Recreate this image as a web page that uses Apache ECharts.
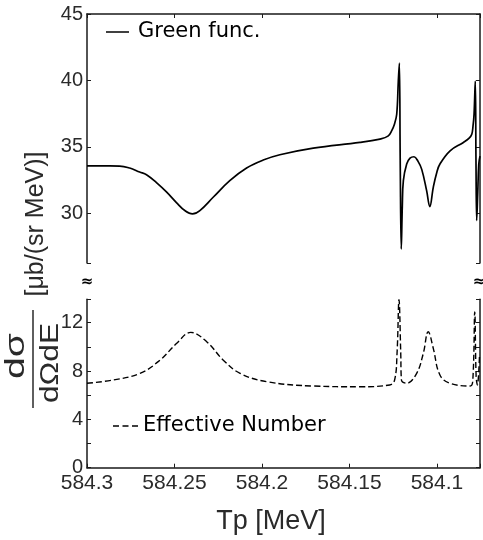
<!DOCTYPE html>
<html><head><meta charset="utf-8">
<script src="https://cdn.jsdelivr.net/npm/echarts@6/dist/echarts.min.js"></script>
<style>html,body{margin:0;padding:0;background:#fff}#c{width:483px;height:540px}</style>
</head><body><div id="c"></div>
<script>
// ---- data ----
const greenTp = [584.300, 584.290, 584.2813, 584.2756, 584.2699, 584.266, 584.2603, 584.2546, 584.2489, 584.2441, 584.2397, 584.2355, 584.2279, 584.2184, 584.2088, 584.1993, 584.1898, 584.1707, 584.1440, 584.1326, 584.128, 584.1259, 584.1243, 584.1230, 584.1221, 584.1215, 584.1210, 584.1204, 584.1198, 584.1192, 584.1173, 584.1154, 584.1131, 584.1108, 584.1087, 584.1059, 584.1041, 584.1021, 584.1001, 584.0983, 584.0925, 584.0849, 584.0816, 584.0801, 584.0794, 584.0788, 584.0781, 584.0777, 584.0773, 584.0767, 584.0761, 584.0754];
const greenVal = [33.57, 33.56, 33.55, 33.4, 33.1, 32.9, 32.3, 31.6, 30.8, 30.2, 29.95, 30.2, 31.2, 32.45, 33.4, 34.0, 34.4, 34.9, 35.33, 35.58, 35.8, 36.2, 36.7, 37.45, 39.9, 41.3, 34.0, 27.3, 30.5, 32.45, 33.7, 34.15, 34.25, 33.9, 33.3, 31.7, 30.5, 31.95, 33.07, 33.7, 34.7, 35.33, 35.65, 35.95, 36.55, 37.45, 39.95, 34.0, 29.45, 31.5, 33.7, 34.3];
const effTp = [584.300, 584.285, 584.2697, 584.2583, 584.2487, 584.2407, 584.2316, 584.2221, 584.2125, 584.1973, 584.1706, 584.1440, 584.127, 584.1242, 584.1228, 584.1217, 584.1207, 584.1203, 584.1173, 584.1116, 584.1078, 584.1050, 584.1021, 584.0983, 584.0925, 584.0810, 584.0795, 584.0784, 584.0776, 584.0769, 584.0757];
const effVal = [6.99, 7.26, 7.81, 8.9, 10.3, 11.2, 10.43, 8.9, 7.81, 7.12, 6.76, 6.7, 6.85, 7.26, 9.5, 13.9, 9.5, 7.26, 6.99, 7.81, 9.47, 11.26, 9.88, 7.67, 6.99, 6.76, 7.26, 12.9, 7.53, 6.85, 9.2];
const xTickLabels = [584.3, 584.25, 584.2, 584.15, 584.1];
const yTopTickLabels = [30, 35, 40, 45];
const yBottomTickLabels = [0, 4, 8, 12];
const seriesNames = ['Green func.', 'Effective Number'];
const xTitle = 'Tp [MeV]';
const yUnit = '[μb/(sr MeV)]';

const X_MIN = 584.0754, X_MAX = 584.3;
const TOP_MIN = 26.25, TOP_MAX = 45;
const BOT_MIN = 0, BOT_MAX = 13.94;

const AX = '#1a1a1a', LBL = '#2a2a2a';
const numFont = '"Liberation Sans", Arial, sans-serif';
const legFont = '"DejaVu Sans", sans-serif';
const near = (v, arr) => arr.some(a => Math.abs(a - v) < 1e-6);

const chart = echarts.init(document.getElementById('c'), null, {renderer: 'canvas'});

function xAx(grid, showLabels) {
  return {
    type: 'value', gridIndex: grid, min: X_MIN, max: X_MAX, inverse: true, splitNumber: 5,
    position: showLabels ? 'bottom' : 'top',
    axisLine: {show: true, onZero: false, lineStyle: {color: AX, width: 1.5}},
    axisTick: {show: true, inside: true, length: 4, lineStyle: {color: AX, width: 1}},
    axisLabel: {show: showLabels, margin: 5, fontSize: 21, fontFamily: numFont, color: LBL,
      formatter: v => near(v, xTickLabels) ? String(v) : ''},
    splitLine: {show: false}
  };
}
function yAx(grid, min, max, pos, labels, opts) {
  return Object.assign({
    type: 'value', gridIndex: grid, min: min, max: max, position: pos,
    axisLine: {show: true, onZero: false, lineStyle: {color: AX, width: 1.5}},
    axisTick: {show: true, inside: true, length: 4, lineStyle: {color: AX, width: 1}},
    axisLabel: {show: !!labels, margin: 4, fontSize: 20, fontFamily: numFont, color: LBL,
      formatter: v => (labels && near(v, labels)) ? String(v) : ''},
    splitLine: {show: false}
  }, opts || {});
}

const option = {
  animation: false,
  backgroundColor: '#fff',
  grid: [
    {left: 87, right: 3, top: 14, height: 249},
    {left: 87, right: 3, top: 299.3, height: 168.4}
  ],
  xAxis: [xAx(0, false), xAx(1, true)],
  yAxis: [
    yAx(0, TOP_MIN, TOP_MAX, 'left', yTopTickLabels, {splitNumber: 4}),
    yAx(0, TOP_MIN, TOP_MAX, 'right', null, {splitNumber: 4}),
    yAx(1, BOT_MIN, BOT_MAX, 'left', yBottomTickLabels, {interval: 4, minorTick: {show: true, splitNumber: 2, length: 4, lineStyle: {color: AX, width: 1}}}),
    yAx(1, BOT_MIN, BOT_MAX, 'right', null, {interval: 4, minorTick: {show: true, splitNumber: 2, length: 4, lineStyle: {color: AX, width: 1}}})
  ],
  series: [
    {name: seriesNames[0], type: 'line', xAxisIndex: 0, yAxisIndex: 0,
     data: greenTp.map((t, i) => [t, greenVal[i]]), showSymbol: false, symbol: 'none',
     smooth: 0.4, lineStyle: {color: '#000', width: 1.7}},
    {name: seriesNames[1], type: 'line', xAxisIndex: 1, yAxisIndex: 2,
     data: effTp.map((t, i) => [t, effVal[i]]), showSymbol: false, symbol: 'none',
     smooth: 0.4, lineStyle: {color: '#000', width: 1.4, type: [6, 3]}}
  ],
  graphic: [
    // legends
    {type: 'line', shape: {x1: 106, y1: 32, x2: 129, y2: 32}, style: {stroke: '#000', lineWidth: 1.5}},
    {type: 'text', x: 138, y: 32, style: {text: seriesNames[0], font: '21px ' + legFont, fill: '#000', align: 'left', verticalAlign: 'middle'}},
    {type: 'line', shape: {x1: 113, y1: 426, x2: 139, y2: 426}, style: {stroke: '#000', lineWidth: 1.5, lineDash: [6, 3.5]}},
    {type: 'text', x: 143, y: 426, style: {text: seriesNames[1], font: '21px ' + legFont, fill: '#000', align: 'left', verticalAlign: 'middle'}},
    // axis break marks
    {type: 'text', x: 87, y: 282, style: {text: '≈', font: 'bold 15px "DejaVu Sans"', fill: '#000', align: 'center', verticalAlign: 'middle'}},
    {type: 'text', x: 479, y: 282, style: {text: '≈', font: 'bold 15px "DejaVu Sans"', fill: '#000', align: 'center', verticalAlign: 'middle'}},
    // x title
    {type: 'text', x: 271, y: 522, style: {text: xTitle, font: '27px ' + numFont, fill: LBL, align: 'center', verticalAlign: 'middle'}},
    // y title: fraction + unit (rotated)
    {type: 'text', x: 36, y: 224, rotation: Math.PI / 2, style: {text: yUnit, font: '25px ' + numFont, fill: LBL, align: 'center', verticalAlign: 'middle'}},
    {type: 'text', x: 17, y: 356, rotation: Math.PI / 2, scaleX: 1.45, style: {text: 'dσ', font: '27px ' + numFont, fill: LBL, align: 'center', verticalAlign: 'middle'}},
    {type: 'line', shape: {x1: 33, y1: 310, x2: 33, y2: 408}, style: {stroke: LBL, lineWidth: 1.5}},
    {type: 'text', x: 51, y: 363, rotation: Math.PI / 2, scaleX: 1.22, style: {text: 'dΩdE', font: '26px ' + numFont, fill: LBL, align: 'center', verticalAlign: 'middle'}}
  ]
};
chart.setOption(option);
</script>
</body></html>
